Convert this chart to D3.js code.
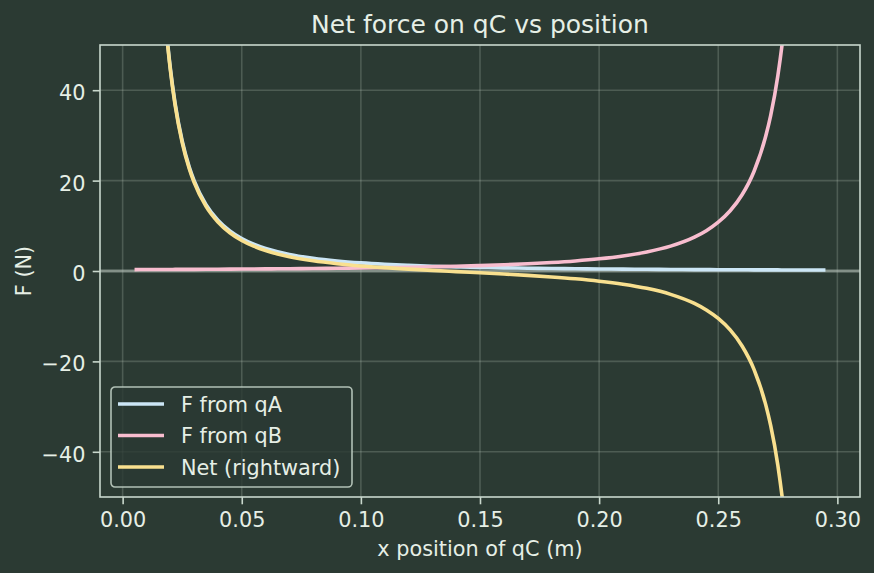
<!DOCTYPE html>
<html>
<head>
<meta charset="utf-8">
<script src="https://cdn.jsdelivr.net/npm/d3@7"></script>
<style>
  html, body { margin: 0; padding: 0; background: #2b3a33; }
  svg { display: block; font-family: "DejaVu Sans", sans-serif; }
</style>
</head>
<body>
<div id="chart"></div>
<script>
// positions of qC (m)
const xPos = [0.005,0.010,0.015,0.018,0.020,0.022,0.025,0.028,0.030,0.035,0.040,0.045,0.050,0.055,0.060,0.065,0.070,
  0.080,0.090,0.100,0.110,0.120,0.130,0.140,0.150,0.160,0.170,0.180,0.190,0.200,
  0.210,0.220,0.230,0.240,0.245,0.250,0.255,0.260,0.265,0.270,
  0.272,0.275,0.278,0.280,0.285,0.290,0.295];
// force from qA (N)
const forceA = [719.2,179.8,79.91,55.49,44.95,37.15,28.77,22.93,19.98,14.68,11.24,8.879,7.192,5.944,4.994,4.256,3.669,
  2.809,2.220,1.798,1.486,1.249,1.064,0.917,0.799,0.702,0.622,0.555,0.498,0.450,
  0.408,0.372,0.340,0.312,0.300,0.288,0.277,0.266,0.256,0.247,
  0.243,0.238,0.233,0.229,0.221,0.214,0.207];
// force from qB (N)
const forceB = [0.310,0.321,0.332,0.339,0.344,0.349,0.357,0.365,0.370,0.384,0.399,0.415,0.432,0.449,0.468,0.488,0.510,
  0.557,0.612,0.674,0.747,0.832,0.933,1.054,1.199,1.376,1.596,1.873,2.229,2.697,
  3.330,4.214,5.504,7.492,8.916,10.79,13.32,16.86,22.02,29.97,
  34.40,43.15,55.72,67.43,119.9,269.7,1078.8];
// net (rightward) force (N)
const forceNet = [718.9,179.5,79.58,55.15,44.61,36.80,28.41,22.57,19.61,14.29,10.84,8.46,6.76,5.49,4.53,3.77,3.16,
  2.25,1.61,1.12,0.739,0.42,0.131,-0.14,-0.40,-0.67,-0.974,-1.32,-1.731,-2.25,
  -2.922,-3.84,-5.164,-7.18,-8.62,-10.50,-13.04,-16.59,-21.76,-29.72,
  -34.16,-42.91,-55.49,-67.20,-119.6,-269.5,-1078.6];

const xTicks = [0.00, 0.05, 0.10, 0.15, 0.20, 0.25, 0.30];
const yTicks = [-40, -20, 0, 20, 40];
const seriesNames = ["F from qA", "F from qB", "Net (rightward)"];
const seriesColors = ["#cce6f6", "#f8bdcf", "#f9e08f"];

const W = 874, H = 573;
const margin = {top: 45, right: 14, bottom: 76, left: 100};
const width = W - margin.left - margin.right,
      height = H - margin.top - margin.bottom;
const textColor = "#e6efe6", spineColor = "#c9d8cd";

const svg = d3.select("#chart").append("svg")
    .attr("width", W)
    .attr("height", H);
svg.append("rect").attr("width", W).attr("height", H).attr("fill", "#2b3a33");

const g = svg.append("g")
    .attr("transform", "translate(" + margin.left + "," + margin.top + ")");

let x = d3.scaleLinear().domain([-0.0095, 0.3095]).range([0, width]);
let y = d3.scaleLinear().domain([-50, 50]).range([height, 0]);

g.append("clipPath").attr("id", "clip")
  .append("rect").attr("width", width).attr("height", height);

// grid
g.append("g").selectAll("line").data(xTicks).enter().append("line")
    .attr("x1", d => x(d)).attr("x2", d => x(d))
    .attr("y1", 0).attr("y2", height)
    .attr("stroke", "#c8d8c8").attr("stroke-opacity", 0.22).attr("stroke-width", 1.6);
g.append("g").selectAll("line").data(yTicks).enter().append("line")
    .attr("y1", d => y(d)).attr("y2", d => y(d))
    .attr("x1", 0).attr("x2", width)
    .attr("stroke", "#c8d8c8").attr("stroke-opacity", 0.22).attr("stroke-width", 1.6);

// zero line
g.append("line")
    .attr("x1", 0).attr("x2", width)
    .attr("y1", y(0)).attr("y2", y(0))
    .attr("stroke", "#b8c2bb").attr("stroke-opacity", 0.55).attr("stroke-width", 3);

// curves
let line = d3.line()
    .x(d => x(d[0]))
    .y(d => y(d[1]))
    .curve(d3.curveMonotoneX);
const series = [forceA, forceB, forceNet];
const plot = g.append("g").attr("clip-path", "url(#clip)");
series.forEach(function(vals, i){
    plot.append("path")
        .datum(xPos.map((xv, j) => [xv, vals[j]]))
        .attr("d", line)
        .attr("fill", "none")
        .attr("stroke", seriesColors[i])
        .attr("stroke-width", 3.6)
        .attr("stroke-linejoin", "round");
});

// axes
let xAxis = g.append("g")
    .attr("transform", "translate(0," + height + ")")
    .call(d3.axisBottom(x).tickValues(xTicks).tickFormat(d3.format(".2f")).tickSize(7.3).tickPadding(7));
let yAxis = g.append("g")
    .call(d3.axisLeft(y).tickValues(yTicks).tickFormat(d => d < 0 ? "\u2212" + Math.abs(d) : d).tickSize(7.3).tickPadding(7.3));
[xAxis, yAxis].forEach(function(a){
    a.select(".domain").remove();
    a.selectAll(".tick line").attr("stroke", spineColor).attr("stroke-width", 1.6);
    a.selectAll(".tick text").attr("fill", textColor).style("font-size", "20.8px").style("font-family", "DejaVu Sans");
});
xAxis.selectAll(".tick text").attr("dy", "0.76em");
yAxis.selectAll(".tick text").attr("dy", "0.46em");

// spines
g.append("rect")
    .attr("width", width).attr("height", height)
    .attr("fill", "none").attr("stroke", spineColor).attr("stroke-width", 1.6);

// title and labels
svg.append("text")
    .attr("x", margin.left + width/2).attr("y", 33)
    .style("text-anchor", "middle").style("font-size", "25px")
    .attr("fill", textColor)
    .text("Net force on qC vs position");
svg.append("text")
    .attr("x", margin.left + width/2).attr("y", 556)
    .style("text-anchor", "middle").style("font-size", "20.8px")
    .attr("fill", textColor)
    .text("x position of qC (m)");
svg.append("text")
    .attr("transform", "translate(31," + (margin.top + height/2) + ") rotate(-90)")
    .style("text-anchor", "middle").style("font-size", "20.8px")
    .attr("fill", textColor)
    .text("F (N)");

// legend
const legend = svg.append("g").attr("transform", "translate(111,387)");
legend.append("rect")
    .attr("width", 241).attr("height", 100).attr("rx", 4)
    .attr("fill", "#2b3a33").attr("fill-opacity", 0.8)
    .attr("stroke", spineColor).attr("stroke-opacity", 0.85).attr("stroke-width", 1.6);
seriesNames.forEach(function(name, i){
    const cy = 17 + i * 31.5;
    legend.append("line")
        .attr("x1", 7).attr("x2", 53).attr("y1", cy).attr("y2", cy)
        .attr("stroke", seriesColors[i]).attr("stroke-width", 3.6);
    legend.append("text")
        .attr("x", 70).attr("y", cy + 7.5)
        .style("font-size", "20.8px")
        .attr("fill", textColor)
        .text(name);
});
</script>
</body>
</html>
